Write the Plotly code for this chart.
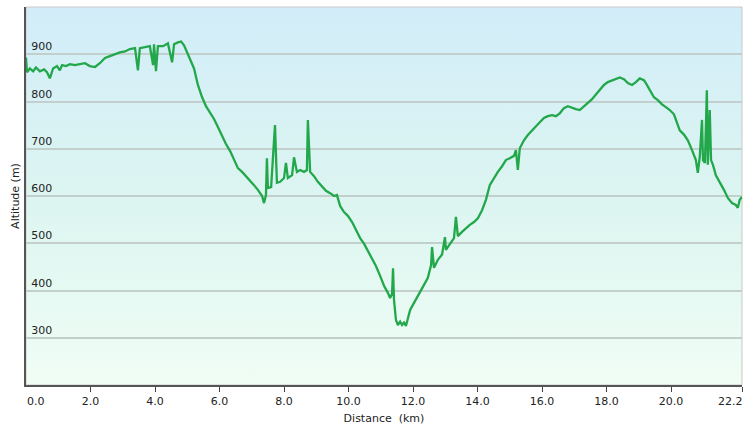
import base64
import plotly.graph_objects as go

# Elevation profile
distance_km = [
    0.00, 0.03, 0.12, 0.22, 0.31, 0.43, 0.56, 0.65, 0.74, 0.84, 0.96, 1.05, 1.12, 1.24, 1.36,
    1.52, 1.67, 1.83, 1.98, 2.14, 2.29, 2.45, 2.60, 2.76, 2.91, 3.07, 3.22, 3.38, 3.47, 3.53,
    3.69, 3.84, 3.94, 3.97, 4.03, 4.09, 4.25, 4.40, 4.53, 4.59, 4.71, 4.81, 4.90, 4.99, 5.08,
    5.21, 5.33, 5.46, 5.58, 5.71, 5.83, 5.95, 6.08, 6.20, 6.33, 6.45, 6.57, 6.70, 6.82, 6.95,
    7.07, 7.19, 7.32, 7.38, 7.44, 7.47, 7.50, 7.60, 7.66, 7.72, 7.78, 7.88, 8.00, 8.06, 8.12,
    8.25, 8.31, 8.40, 8.50, 8.62, 8.71, 8.74, 8.81, 8.93, 9.05, 9.18, 9.30, 9.43, 9.55, 9.64,
    9.74, 9.86, 9.98, 10.11, 10.23, 10.36, 10.48, 10.60, 10.73, 10.85, 10.98, 11.10, 11.22,
    11.29, 11.35, 11.38, 11.41, 11.47, 11.53, 11.60, 11.66, 11.72, 11.78, 11.84, 11.91, 12.00,
    12.09, 12.22, 12.34, 12.46, 12.56, 12.59, 12.65, 12.77, 12.90, 12.99, 13.02, 13.14, 13.27,
    13.33, 13.39, 13.52, 13.64, 13.76, 13.89, 14.01, 14.14, 14.26, 14.38, 14.51, 14.63, 14.76,
    14.88, 15.00, 15.13, 15.19, 15.25, 15.31, 15.44, 15.56, 15.69, 15.81, 15.93, 16.06, 16.18,
    16.31, 16.43, 16.55, 16.68, 16.80, 16.93, 17.05, 17.17, 17.30, 17.42, 17.55, 17.67, 17.79,
    17.92, 18.04, 18.17, 18.29, 18.41, 18.54, 18.66, 18.79, 18.91, 19.03, 19.16, 19.22, 19.34,
    19.47, 19.59, 19.72, 19.84, 19.96, 20.09, 20.18, 20.27, 20.40, 20.52, 20.65, 20.77, 20.83,
    20.89, 20.96, 20.99, 21.05, 21.11, 21.14, 21.20, 21.24, 21.30, 21.39, 21.51, 21.64, 21.76,
    21.89, 22.01, 22.07, 22.13, 22.20,
]
altitude_m = [
    893, 862, 870, 864, 872, 864, 868, 862, 849, 870, 875, 866, 877, 875, 879,
    877, 879, 881, 875, 873, 881, 892, 896, 900, 904, 906, 911, 913, 866, 913,
    915, 917, 877, 921, 864, 917, 917, 923, 883, 921, 925, 927, 919, 904, 892,
    870, 835, 809, 790, 775, 763, 746, 727, 710, 695, 676, 659, 651, 642, 634,
    623, 613, 600, 585, 602, 680, 617, 619, 676, 750, 628, 630, 638, 670, 638,
    644, 682, 651, 655, 651, 655, 761, 651, 642, 630, 619, 611, 606, 600, 602,
    579, 566, 558, 545, 528, 511, 499, 484, 469, 452, 431, 410, 395,
    384, 393, 447, 380, 338, 327, 334, 327, 332, 325, 342, 359, 370,
    380, 397, 412, 427, 454, 492, 448, 465, 476, 513, 486, 499, 511,
    556, 515, 524, 532, 539, 545, 553, 570, 592, 623, 638, 651, 663,
    676, 680, 685, 697, 655, 701, 718, 729, 739, 748, 756, 765, 769,
    771, 769, 775, 786, 790, 786, 784, 782, 790, 796, 805, 815, 824,
    835, 841, 845, 849, 851, 847, 839, 835, 841, 849, 845, 839, 824,
    809, 803, 794, 788, 782, 773, 756, 739, 730, 718, 697, 676, 649,
    682, 761, 676, 670, 824, 666, 782, 676, 666, 644, 630, 613, 596,
    585, 581, 575, 592, 598,
]

x_tick_vals = [0, 2, 4, 6, 8, 10, 12, 14, 16, 18, 20, 22.2]
x_tick_text = ["0.0", "2.0", "4.0", "6.0", "8.0", "10.0", "12.0", "14.0", "16.0",
               "18.0", "20.0", "22.2"]
y_tick_vals = [300, 400, 500, 600, 700, 800, 900]
y_tick_text = ["300", "400", "500", "600", "700", "800", "900"]

FONT = "DejaVu Sans, Verdana, sans-serif"

svg = (
    '<svg xmlns="http://www.w3.org/2000/svg" width="10" height="100" viewBox="0 0 10 100" '
    'preserveAspectRatio="none"><defs><linearGradient id="g" x1="0" y1="0" x2="0" y2="1">'
    '<stop offset="0" stop-color="#d2edf9"/><stop offset="0.5" stop-color="#dcf5f1"/>'
    '<stop offset="1" stop-color="#f0fdf5"/></linearGradient></defs>'
    '<rect width="10" height="100" fill="url(#g)"/></svg>'
)
bg_uri = "data:image/svg+xml;base64," + base64.b64encode(svg.encode()).decode()

fig = go.Figure()
fig.add_trace(go.Scatter(
    x=distance_km, y=altitude_m, mode="lines",
    line=dict(color="#22a84a", width=2.3), hoverinfo="skip", showlegend=False,
))

# end tick labels are drawn as annotations, aligned inward like the reference
inner_text = [("" if i in (0, len(x_tick_text) - 1) else t) for i, t in enumerate(x_tick_text)]
edge_annotations = [
    dict(x=x_tick_vals[0], y=0, xref="x", yref="paper", text=x_tick_text[0],
         xanchor="left", yanchor="top", yshift=-8, showarrow=False,
         font=dict(size=11, color="#222"), xshift=-1),
    dict(x=x_tick_vals[-1], y=0, xref="x", yref="paper", text=x_tick_text[-1],
         xanchor="right", yanchor="top", yshift=-8, showarrow=False,
         font=dict(size=11, color="#222"), xshift=3),
]

fig.update_layout(
    width=747, height=428,
    margin=dict(l=26, r=5, t=7, b=43, autoexpand=False),
    paper_bgcolor="white",
    plot_bgcolor="rgba(0,0,0,0)",
    font=dict(family=FONT, size=11, color="#222"),
    images=[dict(source=bg_uri, xref="paper", yref="paper", x=0, y=1, sizex=1, sizey=1,
                 xanchor="left", yanchor="top", sizing="stretch", layer="below")],
    shapes=[dict(type="rect", xref="paper", yref="paper", x0=0, x1=1, y0=0, y1=1,
                 line=dict(color="#c9c9c9", width=1), layer="below")],
    annotations=edge_annotations,
    xaxis=dict(
        range=[0, 22.2], tickvals=x_tick_vals, ticktext=inner_text, automargin=False,
        showgrid=False, zeroline=False, showline=True, linecolor="#555", linewidth=1.5,
        ticks="outside", ticklen=5, tickcolor="#444", tickwidth=1,
        tickfont=dict(size=11, color="#222"),
        title=dict(text="Distance\u00a0 (km)", font=dict(size=11, color="#222"), standoff=7),
    ),
    yaxis=dict(
        range=[200, 1000], tickvals=y_tick_vals, ticktext=y_tick_text, automargin=False,
        ticklabelposition="inside top", ticks="", ticklabelstandoff=4,
        showgrid=True, gridcolor="#c3cfcc", gridwidth=1.5,
        zeroline=False, showline=True, linecolor="#555", linewidth=1.5,
        tickfont=dict(size=11, color="#222"),
        title=dict(text="Altitude (m)", font=dict(size=11, color="#222"), standoff=9),
    ),
)

fig.write_html("out.html", config={"displayModeBar": False},
               post_script="document.body.style.margin='0';")
